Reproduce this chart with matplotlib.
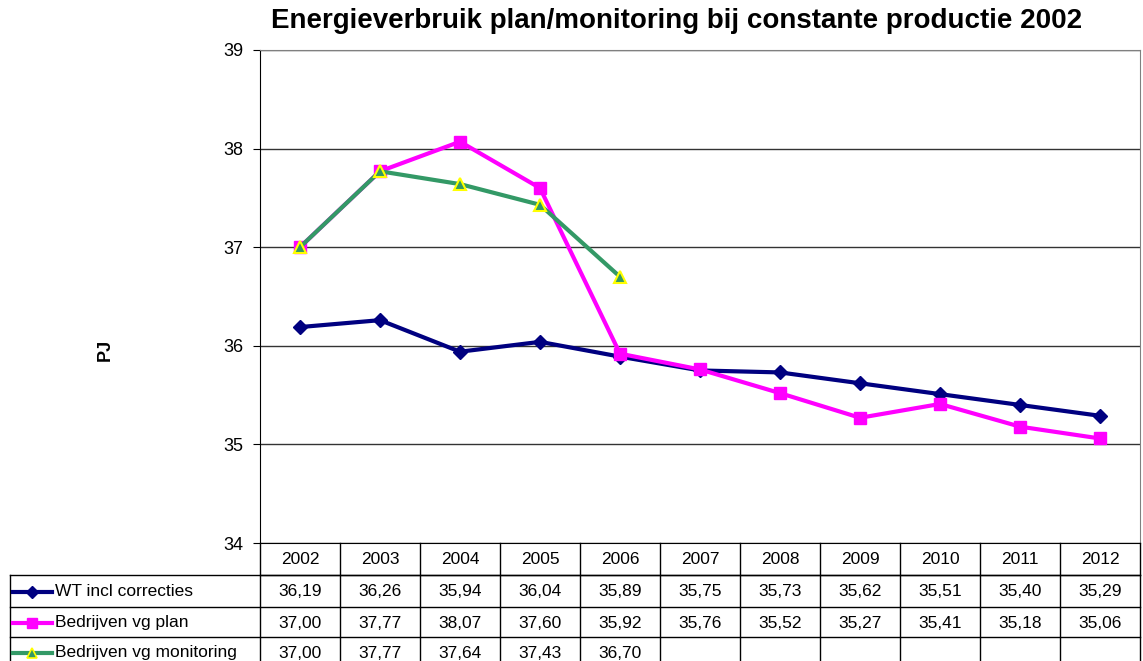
import numpy as np
import matplotlib
matplotlib.use('Agg')
from matplotlib import pyplot as plt

plt.rcParams['font.family'] = ['Liberation Sans', 'DejaVu Sans']

years = ['2002', '2003', '2004', '2005', '2006', '2007', '2008', '2009', '2010', '2011', '2012']
wt = [36.19, 36.26, 35.94, 36.04, 35.89, 35.75, 35.73, 35.62, 35.51, 35.40, 35.29]
plan = [37.00, 37.77, 38.07, 37.60, 35.92, 35.76, 35.52, 35.27, 35.41, 35.18, 35.06]
monitoring = [37.00, 37.77, 37.64, 37.43, 36.70]
names = ['WT incl correcties', 'Bedrijven vg plan', 'Bedrijven vg monitoring']

W, H = 1143, 661
fig = plt.figure(figsize=(W/100, H/100), dpi=100)

# plot area in pixels
L, R, T, B = 260, 1140, 50, 543
ax = fig.add_axes([L/W, 1-B/H, (R-L)/W, (B-T)/H])
x = np.arange(len(years))
ax.plot(x, wt, '-D', color='#000080', lw=3, ms=7, zorder=3)
ax.plot(x, plan, '-s', color='#ff00ff', lw=3, ms=8, zorder=4)
ax.plot(x[:len(monitoring)], monitoring, '-^', color='#339966', lw=3, ms=8,
        mfc='#339966', mec='#ffff00', mew=1.5, zorder=5)
ax.set_xlim(-0.5, 10.5)
ax.set_ylim(34, 39)
ax.set_yticks([34, 35, 36, 37, 38, 39])
ax.set_xticks([])
ax.grid(axis='y', color='#333333', lw=1)
ax.tick_params(axis='y', direction='out', length=5, labelsize=13, pad=7)
for s in ['left', 'bottom']:
    ax.spines[s].set_color('black')
ax.spines['right'].set_color('#808080')
ax.spines['top'].set_color('#808080')
fig.text(677/W, 1-21/H, 'Energieverbruik plan/monitoring bij constante productie 2002',
         fontsize=20, fontweight='bold', ha='center', va='center')
fig.text(105/W, 1-350/H, 'PJ', rotation=90, fontsize=13, fontweight='bold',
         ha='center', va='center')

# data table below the plot, pixel coordinates
tb = fig.add_axes([0, 0, 1, 1])
tb.set_xlim(0, W)
tb.set_ylim(H, 0)
tb.axis('off')
tb.patch.set_alpha(0)
col_w = (R - L) / len(years)
rows = [543, 575, 607, 637, 667]
lc = 'black'
fs = 12.5
# header row
tb.plot([L, R], [rows[1], rows[1]], color=lc, lw=1)
for i in range(len(years) + 1):
    xx = L + i * col_w
    tb.plot([xx, xx], [rows[0], H], color=lc, lw=1)
for i, yr in enumerate(years):
    tb.text(L + (i + 0.5) * col_w, (rows[0] + rows[1]) / 2 + 1, yr,
            ha='center', va='center', fontsize=fs)
# legend column
tb.plot([10, 10], [rows[1], H], color=lc, lw=1)
for r in rows[1:4]:
    tb.plot([10, R], [r, r], color=lc, lw=1)

series = [wt, plan, monitoring]
styles = [dict(color='#000080', marker='D', ms=6),
          dict(color='#ff00ff', marker='s', ms=7),
          dict(color='#339966', marker='^', ms=7, mfc='#339966', mec='#ffff00', mew=1.2)]
for k, (vals, nm, st) in enumerate(zip(series, names, styles)):
    yc = (rows[k + 1] + rows[k + 2]) / 2 + 1
    tb.plot([13, 52], [yc, yc], lw=3, color=st['color'])
    tb.plot([32], [yc], ls='none', **st)
    tb.text(55, yc, nm, ha='left', va='center', fontsize=fs)
    for i, v in enumerate(vals):
        tb.text(L + (i + 0.5) * col_w, yc, f'{v:.2f}'.replace('.', ','),
                ha='center', va='center', fontsize=fs)

plt.savefig('out.png', dpi=100)
